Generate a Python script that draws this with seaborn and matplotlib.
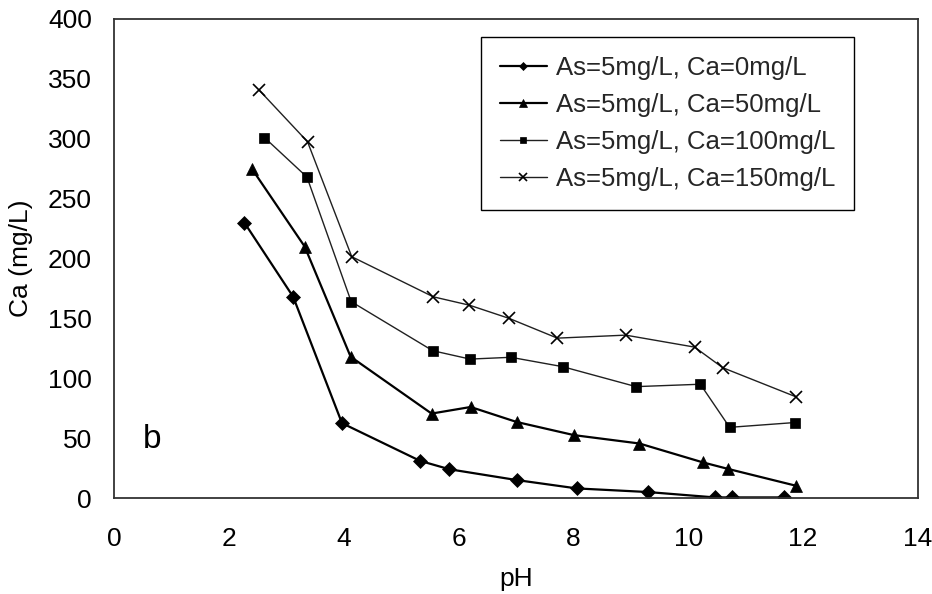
import numpy as np
import pandas as pd
import matplotlib
matplotlib.use("Agg")
import matplotlib.pyplot as plt
import seaborn as sns

# ---- data ----
ph_ca0 = [2.27, 3.12, 3.97, 5.33, 5.84, 7.01, 8.06, 9.29, 10.46, 10.76, 11.66]
ca_ca0 = [230, 168, 62.5, 31, 24, 15, 8, 5, 0.5, 0.5, 0.5]

ph_ca50 = [2.40, 3.32, 4.12, 5.53, 6.21, 7.01, 8.01, 9.15, 10.25, 10.70, 11.87]
ca_ca50 = [275, 210, 118, 70.5, 76, 63.5, 52.5, 45.5, 29.8, 24.2, 10.3]

ph_ca100 = [2.62, 3.36, 4.13, 5.55, 6.20, 6.91, 7.81, 9.09, 10.21, 10.72, 11.85]
ca_ca100 = [301, 268, 164, 123, 116, 117.5, 109.7, 93, 95, 59, 63]

ph_ca150 = [2.52, 3.37, 4.14, 5.56, 6.19, 6.88, 7.72, 8.91, 10.11, 10.60, 11.87]
ca_ca150 = [341, 297.5, 201.5, 168, 161, 150, 133.5, 136, 126, 108.8, 84.6]

labels = ["As=5mg/L, Ca=0mg/L", "As=5mg/L, Ca=50mg/L",
          "As=5mg/L, Ca=100mg/L", "As=5mg/L, Ca=150mg/L"]
x_ticks = [0, 2, 4, 6, 8, 10, 12, 14]
y_ticks = [0, 50, 100, 150, 200, 250, 300, 350, 400]

sns.set_theme(style="white")
plt.rcParams["font.family"] = ["Liberation Sans", "DejaVu Sans"]

fig = plt.figure(figsize=(9.32, 5.94), dpi=100)
ax = fig.add_axes([114/932, 1-498/594, (918-114)/932, (498-19)/594])

series = [
    (ph_ca0, ca_ca0, "D", 7.0, 1.6, "black"),
    (ph_ca50, ca_ca50, "^", 9.0, 1.6, "black"),
    (ph_ca100, ca_ca100, "s", 7.0, 1.0, "#202020"),
    (ph_ca150, ca_ca150, "x", 8.5, 1.0, "#202020"),
]
for (xs, ys, mk, ms, lw, col), lab in zip(series, labels):
    df = pd.DataFrame({"pH": xs, "Ca": ys})
    sns.lineplot(data=df, x="pH", y="Ca", ax=ax, marker=mk, markersize=ms,
                 linewidth=lw, color=col, markeredgecolor="black",
                 markerfacecolor="black", markeredgewidth=1.2 if mk == "x" else 0.5,
                 label=lab, sort=False, estimator=None)

ax.set_xlim(0, 14)
ax.set_ylim(0, 400)
ax.set_xticks(x_ticks)
ax.set_yticks(y_ticks)
ax.tick_params(axis="both", direction="in", length=6, width=1, colors="black",
               labelsize=19)
ax.tick_params(axis="x", pad=21)
ax.tick_params(axis="y", pad=16)
for s in ax.spines.values():
    s.set_color("#333333")
    s.set_linewidth(1.3)

ax.set_xlabel("pH", fontsize=19, color="black")
ax.set_ylabel("Ca (mg/L)", fontsize=19, color="black")
ax.xaxis.set_label_coords(0.5, (498-567)/479)
ax.yaxis.set_label_coords((33-114)/804, 0.5)

ax.text(0.66, 42, "b", fontsize=24, color="black", ha="center", va="baseline")

leg = ax.legend(loc="upper left", bbox_to_anchor=((481-114)/804, (498-37)/479),
                borderaxespad=0, fontsize=18.5, frameon=True, fancybox=False,
                edgecolor="black", framealpha=1, handlelength=1.8,
                handletextpad=0.35, labelspacing=0.5, borderpad=0.75,
                markerscale=0.6)
leg.get_frame().set_linewidth(1.0)

fig.savefig("out.png", dpi=100)
